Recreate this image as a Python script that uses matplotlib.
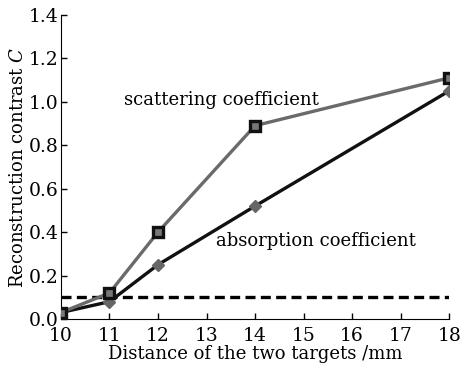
import matplotlib
matplotlib.use("Agg")
import matplotlib.pyplot as plt

distance = [10, 11, 12, 14, 18]
scattering = [0.03, 0.12, 0.40, 0.89, 1.11]
absorption = [0.03, 0.08, 0.25, 0.52, 1.05]
threshold = 0.1

plt.rcParams['font.family'] = 'DejaVu Serif'
plt.rcParams['mathtext.fontset'] = 'dejavuserif'

fig = plt.figure(figsize=(4.65, 3.71), dpi=100)
ax = fig.add_axes([0.131, 0.140, 0.835, 0.820])

ax.axhline(threshold, color='black', lw=2.4, ls=(0, (3, 1.6)), zorder=1)
ax.plot(distance, absorption, color='#111111', lw=2.4, marker='D', ms=6,
        mfc='#666666', mec='#666666', zorder=2)
ax.plot(distance, scattering, color='#6a6a6a', lw=2.4, marker='s', ms=6.5,
        mfc='#777777', mec='#111111', mew=2.4, zorder=3)

ax.text(11.3, 1.01, 'scattering coefficient', fontsize=13, va='center')
ax.text(13.2, 0.36, 'absorption coefficient', fontsize=13, va='center')

ax.set_xlim(10, 18)
ax.set_ylim(0, 1.4)
ax.set_xticks(range(10, 19))
ax.set_yticks([0, 0.2, 0.4, 0.6, 0.8, 1.0, 1.2, 1.4])
ax.yaxis.set_major_formatter(matplotlib.ticker.FormatStrFormatter('%.1f'))
ax.tick_params(direction='in', labelsize=13.5, length=4, width=1)
ax.tick_params(axis='x', pad=6)
ax.tick_params(axis='y', pad=2)
ax.spines['top'].set_visible(False)
ax.spines['right'].set_visible(False)
ax.set_xlabel('Distance of the two targets /mm', fontsize=13, labelpad=0)
ax.set_ylabel('Reconstruction contrast $C$', fontsize=13, labelpad=1)

fig.savefig('out.png', dpi=100)
